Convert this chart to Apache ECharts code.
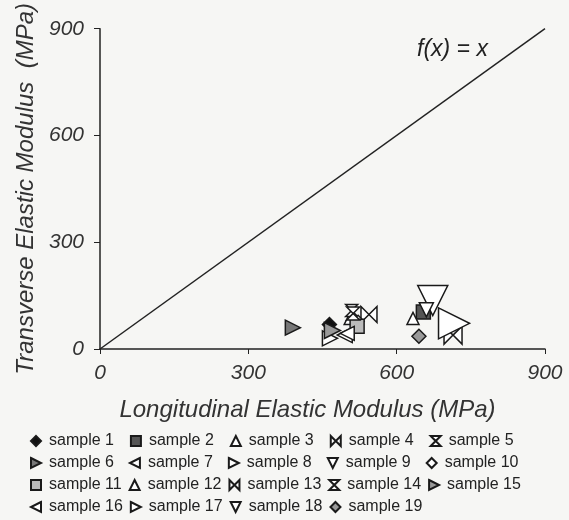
<!DOCTYPE html>
<html>
<head>
<meta charset="utf-8">
<script src="https://cdn.jsdelivr.net/npm/echarts@6/dist/echarts.min.js"></script>
<style>
  html, body { margin: 0; padding: 0; background: #f6f6f4; }
  #main { width: 569px; height: 520px; }
</style>
</head>
<body>
<div id="main"></div>
<script>
// sample names
var sampleNames = ['sample 1', 'sample 2', 'sample 3', 'sample 4', 'sample 5',
  'sample 6', 'sample 7', 'sample 8', 'sample 9', 'sample 10',
  'sample 11', 'sample 12', 'sample 13', 'sample 14', 'sample 15',
  'sample 16', 'sample 17', 'sample 18', 'sample 19'];
// longitudinal modulus (MPa)
var longitudinal = [464, 654, 506, 544, 509, 390, 495, 465, 673, 522,
  520, 633, 714, 512, 470, 500, 716, 660, 645];
// transverse modulus (MPa)
var transverse = [69, 104, 86, 97, 108, 60, 39, 30, 136, 78,
  64, 86, 39, 100, 52, 44, 72, 110, 36];
// marker sizes
var markerSize = [14, 14, 12, 16, 12, 15, 15, 15, 30, 12,
  14, 12, 18, 13, 16, 14, 31, 14, 14];
var axisTicks = [0, 300, 600, 900];

// symbols
var tri = 'triangle';
var left = 'path://M10,0L0,5L10,10Z';
var right = 'path://M0,0L10,5L0,10Z';
var down = 'path://M0,0L10,0L5,10Z';
var bowtie = 'path://M0,0L5,5L0,10Z M10,0L5,5L10,10Z';
var hourglass = 'path://M0,0L10,0L5,5Z M5,5L10,10L0,10Z';
var symbols = ['diamond', 'rect', tri, bowtie, hourglass,
  right, left, right, down, 'diamond',
  'rect', tri, bowtie, hourglass, right,
  left, right, down, 'diamond'];
var fills = ['#111', '#555', '#fff', '#fff', '#fff',
  '#777', '#fff', '#fff', '#fff', '#fff',
  '#bbb', '#fff', '#fff', '#fff', '#999',
  '#fff', '#fff', '#fff', '#999'];

var font = 'Liberation Sans';
var series = [{
  name: 'f(x) = x',
  type: 'line',
  data: [[axisTicks[0], axisTicks[0]], [axisTicks[3], axisTicks[3]]],
  symbol: 'none',
  lineStyle: { color: '#222', width: 1.5 },
  silent: true,
  z: 1
}];
sampleNames.forEach(function (n, i) {
  series.push({
    name: n,
    type: 'scatter',
    data: [[longitudinal[i], transverse[i]]],
    symbol: symbols[i],
    symbolSize: markerSize[i],
    itemStyle: { color: fills[i], borderColor: '#1a1a1a', borderWidth: 1.5, opacity: 1 },
    z: 3
  });
});

// legend: four rows like the original
var rowTops = [428, 450, 472, 494];
var rowGaps = [16, 15, 7, 7];
var legends = rowTops.map(function (t, r) {
  return {
    data: sampleNames.slice(r * 5, r * 5 + 5),
    left: 25, top: t,
    itemWidth: 10, itemHeight: 10, itemGap: rowGaps[r],
    textStyle: { fontFamily: font, fontSize: 16, color: '#222', padding: [0, 0, 0, 3] }
  };
});

var myChart = echarts.init(document.getElementById('main'));
var option = {
  backgroundColor: '#f6f6f4',
  animation: false,
  grid: { left: 100, right: 24, top: 25, bottom: 171, containLabel: false },
  xAxis: {
    type: 'value', min: 0, max: 900, interval: 300,
    name: 'Longitudinal Elastic Modulus (MPa)',
    nameLocation: 'middle', nameGap: 49,
    nameTextStyle: { fontFamily: font, fontStyle: 'italic', fontSize: 24, color: '#333', padding: [0, 30, 0, 0] },
    axisLine: { lineStyle: { color: '#222', width: 1.5 } },
    axisTick: { lineStyle: { color: '#222' }, length: 5 },
    axisLabel: { fontFamily: font, fontStyle: 'italic', fontSize: 21, color: '#333', margin: 14 },
    splitLine: { show: false }
  },
  yAxis: {
    type: 'value', min: 0, max: 900, interval: 300,
    name: 'Transverse Elastic Modulus  (MPa)',
    nameLocation: 'middle', nameGap: 61,
    nameTextStyle: { fontFamily: font, fontStyle: 'italic', fontSize: 24, color: '#333' },
    axisLine: { show: true, lineStyle: { color: '#222', width: 1.5 } },
    axisTick: { show: true, lineStyle: { color: '#222' }, length: 6 },
    axisLabel: { fontFamily: font, fontStyle: 'italic', fontSize: 21, color: '#333', margin: 16 },
    splitLine: { show: false }
  },
  legend: legends,
  graphic: [{
    type: 'text', left: 417, top: 38,
    style: { text: 'f(x) = x', font: 'italic 23px "Liberation Sans"', fill: '#222' }
  }],
  series: series
};
myChart.setOption(option);
window.onresize = myChart.resize;
</script>
</body>
</html>
